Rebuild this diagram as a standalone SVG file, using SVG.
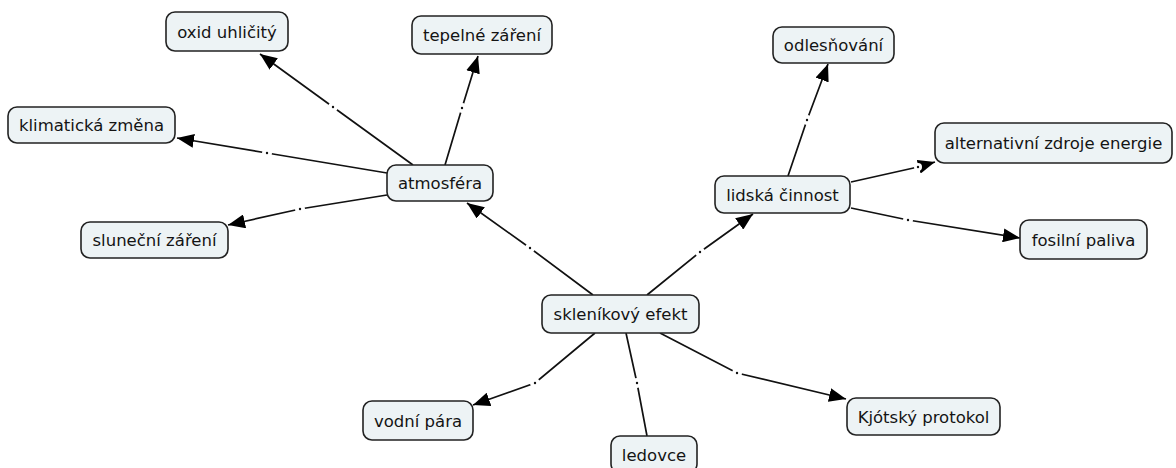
<svg xmlns="http://www.w3.org/2000/svg" width="1176" height="468" viewBox="0 0 1176 468">
<defs>
<style>
.node rect{fill:#edf3f5;stroke:#222;stroke-width:1.6}
.node text{font-family:"DejaVu Sans",Verdana,sans-serif;font-size:16.5px;fill:#141414;text-anchor:middle}
.link{fill:none;stroke:#111;stroke-width:1.7}
.gap{fill:#fff}
.dot{fill:#111}
</style>
<marker id="arr" markerUnits="userSpaceOnUse" markerWidth="18" markerHeight="14" refX="17" refY="7" orient="auto">
<path d="M0,0 L17,7 L0,14 z" fill="#000"/>
</marker>
</defs>
<rect width="1176" height="468" fill="#fff"/>
<g id="connectors">
<path class="link" d="M593,295 L530,248 L467,203" marker-end="url(#arr)"/>
<path class="link" d="M647,295 L700,252 L753,214" marker-end="url(#arr)"/>
<path class="link" d="M413,165 L333,107 L260,54" marker-end="url(#arr)"/>
<path class="link" d="M445,165 L462,108 L478,56" marker-end="url(#arr)"/>
<path class="link" d="M387,173 L267,153 L177,138" marker-end="url(#arr)"/>
<path class="link" d="M387,195 L300,209 L228,225" marker-end="url(#arr)"/>
<path class="link" d="M788,176 L807,120 L828,64" marker-end="url(#arr)"/>
<path class="link" d="M851,182 L918,167 L935,162" marker-end="url(#arr)"/>
<path class="link" d="M851,208 L908,220 L1020,238" marker-end="url(#arr)"/>
<path class="link" d="M595,333 L535,383 L473,405" marker-end="url(#arr)"/>
<path class="link" d="M626,333 L637,383 L647,436"/>
<path class="link" d="M660,333 L737,373 L846,399" marker-end="url(#arr)"/>
<g class="gap">
<circle cx="530" cy="248" r="5"/><circle cx="700" cy="252" r="5"/><circle cx="333" cy="107" r="5"/><circle cx="462" cy="108" r="5"/><circle cx="267" cy="153" r="5"/><circle cx="300" cy="209" r="5"/><circle cx="807" cy="120" r="5"/><circle cx="918" cy="167" r="4"/><circle cx="908" cy="220" r="5"/><circle cx="535" cy="383" r="5"/><circle cx="637" cy="383" r="5"/><circle cx="737" cy="373" r="5"/>
</g>
<g class="dot">
<circle cx="530" cy="248" r="1.2"/><circle cx="700" cy="252" r="1.2"/><circle cx="333" cy="107" r="1.2"/><circle cx="462" cy="108" r="1.2"/><circle cx="267" cy="153" r="1.2"/><circle cx="300" cy="209" r="1.2"/><circle cx="807" cy="120" r="1.2"/><circle cx="918" cy="167" r="1.2"/><circle cx="908" cy="220" r="1.2"/><circle cx="535" cy="383" r="1.2"/><circle cx="637" cy="383" r="1.2"/><circle cx="737" cy="373" r="1.2"/>
</g>
</g>
<g id="n-oxid" class="node"><rect x="166" y="12" width="122" height="39" rx="9"/><text x="227" y="37.5">oxid uhličitý</text></g>
<g id="n-tepelne" class="node"><rect x="412" y="16" width="140" height="38" rx="9"/><text x="482" y="41">tepelné záření</text></g>
<g id="n-klimaticka" class="node"><rect x="8" y="107" width="167" height="36" rx="9"/><text x="91.5" y="131">klimatická změna</text></g>
<g id="n-atmosfera" class="node"><rect x="387" y="165" width="106" height="36" rx="9"/><text x="440" y="189">atmosféra</text></g>
<g id="n-slunecni" class="node"><rect x="81" y="222" width="147" height="36" rx="9"/><text x="154.5" y="246">sluneční záření</text></g>
<g id="n-odlesnovani" class="node"><rect x="773" y="27" width="121" height="36" rx="9"/><text x="833.5" y="51">odlesňování</text></g>
<g id="n-alternativni" class="node"><rect x="935" y="123" width="237" height="40" rx="9"/><text x="1053.5" y="149">alternativní zdroje energie</text></g>
<g id="n-lidska" class="node"><rect x="715" y="176" width="135" height="37" rx="9"/><text x="782.5" y="200.5">lidská činnost</text></g>
<g id="n-fosilni" class="node"><rect x="1020" y="220" width="127" height="39" rx="9"/><text x="1083.5" y="245.5">fosilní paliva</text></g>
<g id="n-sklenikovy" class="node"><rect x="542" y="295" width="157" height="38" rx="9"/><text x="620.5" y="320">skleníkový efekt</text></g>
<g id="n-vodni" class="node"><rect x="363" y="401" width="110" height="39" rx="9"/><text x="418" y="426.5">vodní pára</text></g>
<g id="n-ledovce" class="node"><rect x="611" y="436" width="86" height="37" rx="9"/><text x="654" y="460.5">ledovce</text></g>
<g id="n-kjotsky" class="node"><rect x="847" y="398" width="153" height="37" rx="9"/><text x="923.5" y="422.5">Kjótský protokol</text></g>
</svg>
